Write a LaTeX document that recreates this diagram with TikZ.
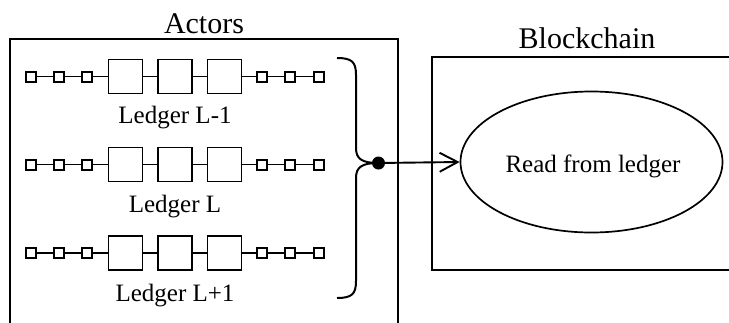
\documentclass[tikz,border=0pt]{standalone}
\usepackage{fontspec}
\setmainfont{Liberation Serif}
\usetikzlibrary{arrows.meta,shapes.geometric}
\tikzset{
  smallblk/.style={draw, line width=2pt, minimum size=10pt, inner sep=0pt, outer sep=0pt},
  bigblk/.style={draw, line width=1.8pt, minimum size=34pt, inner sep=0pt, outer sep=0pt},
  link/.style={line width=1.9pt},
  frame/.style={line width=2pt},
  lbl/.style={font=\fontsize{25}{30}\selectfont, anchor=base, inner sep=0pt},
  ttl/.style={font=\fontsize{30}{36}\selectfont, anchor=base, inner sep=0pt},
}
\begin{document}
\begin{tikzpicture}[x=1pt,y=-1pt]
\useasboundingbox (0,0) rectangle (729,322);
% frames
\draw[frame] (10,335) -- (10,39) -- (398,39) -- (398,335);
\draw[frame] (745,57) -- (432,57) -- (432,270) -- (745,270);
\node[ttl] (actors) at (204,33) {Actors};
\node[ttl] (bc) at (587,48) {Blockchain};
% chains
\foreach \r/\y in {1/76.5,2/164.5,3/253}{
  \foreach \i/\x/\s in {1/31/smallblk,2/59/smallblk,3/87/smallblk,4/125.5/bigblk,5/175/bigblk,6/224.5/bigblk,7/261.5/smallblk,8/289.5/smallblk,9/319/smallblk}{
    \node[\s] (r\r n\i) at (\x,\y) {};
  }
  \foreach \i [evaluate=\i as \j using int(\i+1)] in {1,...,8}{
    \draw[link] (r\r n\i) -- (r\r n\j);
  }
}
\node[lbl] (l1) at (175,123) {Ledger L-1};
\node[lbl] (l2) at (175,212) {Ledger L};
\node[lbl] (l3) at (175,301) {Ledger L+1};
% brace and dot
\node[circle, fill, minimum size=13pt, inner sep=0pt] (dot) at (378.5,163) {};
\draw[frame] (337,58) .. controls (352,58) and (356,62) .. (356,75) -- (356,148) .. controls (356,159) and (362,163) .. (dot.center);
\draw[frame] (337,298) .. controls (352,298) and (356,294) .. (356,281) -- (356,178) .. controls (356,167) and (362,163) .. (dot.center);
% ellipse
\node[draw, ellipse, line width=1.7pt, minimum width=262pt, minimum height=141pt, inner sep=0pt] (ell) at (591.5,162) {};
\node[lbl] (rtxt) at (593,172) {Read from ledger};
\draw[link, -{Straight Barb[length=18pt,width=19pt,line width=1.9pt]}] (dot.center) -- (ell.west);
\end{tikzpicture}
\end{document}
